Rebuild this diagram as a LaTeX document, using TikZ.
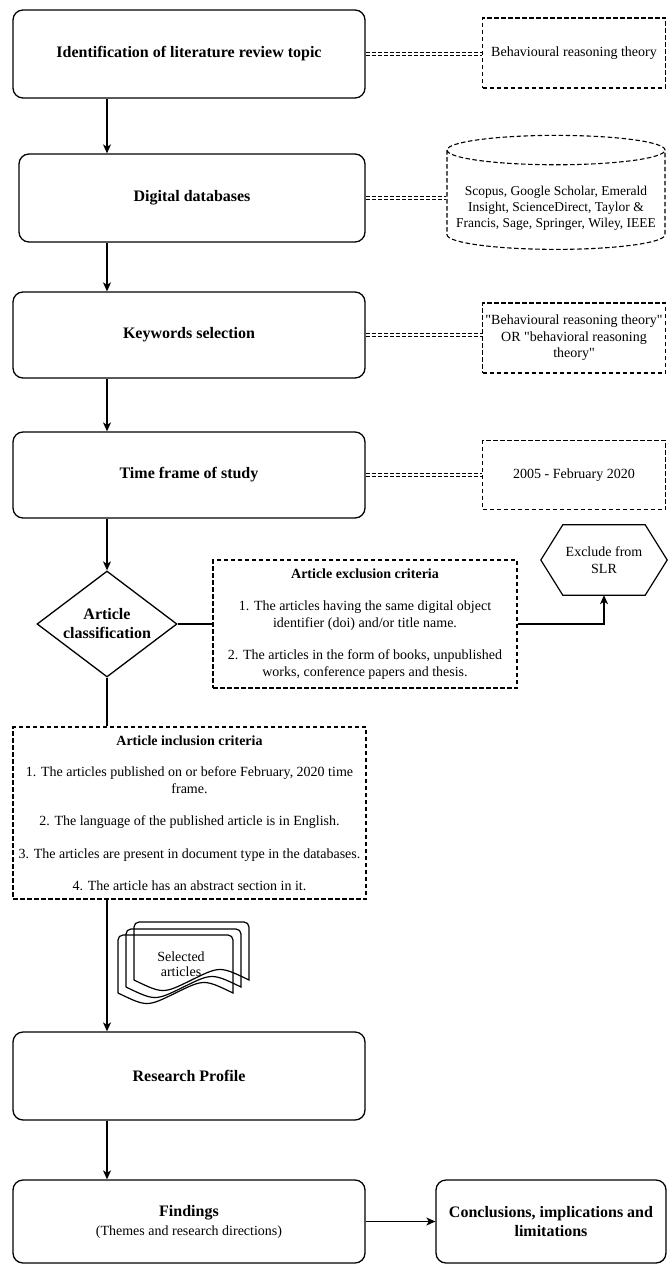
\documentclass[tikz,border=0pt]{standalone}
\usepackage{fontspec}
\setmainfont{Liberation Serif}
\usetikzlibrary{calc,shapes.geometric,arrows.meta}

\tikzset{
  stage/.style={draw, line width=1.3pt, rounded corners=10pt, align=center, inner sep=0pt,
    font=\bfseries\fontsize{16}{19}\selectfont},
  note/.style={draw, line width=1.1pt, dash pattern=on 4.5pt off 2.5pt, align=center, inner sep=0pt,
    font=\fontsize{14}{16.5}\selectfont},
  link/.style={double, double distance=1.8pt, line width=0.9pt, dash pattern=on 4pt off 2pt},
  flow/.style={line width=1.2pt, -{Stealth[length=9pt,width=8pt,inset=2.5pt]}},
  wire/.style={line width=1.2pt},
}

\begin{document}
\begin{tikzpicture}[x=1pt,y=-1pt]
\useasboundingbox (0,0) rectangle (667,1265);
\coordinate (axis) at (107,0);
% main column
\node[stage, minimum width=352, minimum height=88] (topic) at (189,54) {Identification of literature review topic};
\node[stage, minimum width=346, minimum height=88] (media) at (192,198) {Digital databases};
\node[stage, minimum width=352, minimum height=86] (words) at (189,335) {Keywords selection};
\node[stage, minimum width=352, minimum height=86] (period) at (189,475) {Time frame of study};
\node[draw, diamond, line width=1.3pt, aspect=1.32, inner sep=0pt, minimum width=140, minimum height=106,
  align=center, font=\bfseries\fontsize{16}{19}\selectfont] (classify) at (107,624) {Article\\classification};
\node[stage, minimum width=352, minimum height=88] (profile) at (189,1076) {Research Profile};
\node[stage, minimum width=352, minimum height=83] (results) at (189,1221.5)
  {Findings\\{\normalfont\fontsize{14}{17}\selectfont (Themes and research directions)}};
\node[stage, minimum width=230, minimum height=83] (closing) at (551,1221.5) {Conclusions, implications and\\limitations};
% side notes
\node[note, minimum width=183, minimum height=70] (theory) at (574,53) {Behavioural reasoning theory};
\node[note, cylinder, shape border rotate=90, aspect=0.14, minimum width=218, minimum height=114] (dbs) at (556,200)
  {\rule{210pt}{0pt}};
\node[align=center, inner sep=0pt, font=\fontsize{13.5}{16}\selectfont] (dbstext) at (556,208)
  {Scopus, Google Scholar, Emerald\\Insight, ScienceDirect, Taylor \&\\Francis, Sage, Springer, Wiley, IEEE};
\node[note, minimum width=183, minimum height=70] (terms) at (574,338)
  {\textquotedbl Behavioural reasoning theory\textquotedbl\\OR \textquotedbl behavioral reasoning\\theory\textquotedbl};
\node[note, minimum width=183, minimum height=69] (span) at (574,475) {2005 - February 2020};
% criteria
\node[note, minimum width=304, minimum height=128] (excl) at (365,624)
  {\textbf{Article exclusion criteria}\\[16pt]
   1. The articles having the same digital object\\identifier (doi) and/or title name.\\[16pt]
   2. The articles in the form of books, unpublished\\works, conference papers and thesis.};
\node[note, minimum width=353, minimum height=172] (incl) at (189.5,813)
  {\textbf{Article inclusion criteria}\\[15pt]
   1. The articles published on or before February, 2020 time\\frame.\\[16pt]
   2. The language of the published article is in English.\\[16pt]
   3. The articles are present in document type in the databases.\\[16pt]
   4. The article has an abstract section in it.};
\node[minimum width=126, minimum height=70, align=center, inner sep=0pt,
  font=\fontsize{14}{16.5}\selectfont] (slr) at (604,560) {Exclude from\\SLR};
\draw[wire] (slr.west) -- ([xshift=22pt]slr.north west) -- ([xshift=-22pt]slr.north east) -- (slr.east)
  -- ([xshift=-22pt]slr.south east) -- ([xshift=22pt]slr.south west) -- cycle;
% selected articles
\begin{scope}[shift={(134,922)}]
\draw[wire] (0,58) [rounded corners=5pt] -- (0,0) -- (115,0) [sharp corners] -- (115,58)
  .. controls (86,44) .. (57.5,58) .. controls (29,72) .. (0,58);
\end{scope}
\begin{scope}[shift={(126,929)}]
\draw[wire] (0,58) [rounded corners=5pt] -- (0,0) -- (115,0) [sharp corners] -- (115,58)
  .. controls (86,44) .. (57.5,58) .. controls (29,72) .. (0,58);
\end{scope}
\begin{scope}[shift={(118,935)}]
\draw[wire] (0,58) [rounded corners=5pt] -- (0,0) -- (115,0) [sharp corners] -- (115,58)
  .. controls (86,44) .. (57.5,58) .. controls (29,72) .. (0,58);
\end{scope}
\node[align=center, inner sep=0pt, font=\fontsize{14}{15.5}\selectfont] (sel) at (181,964) {Selected\\articles};
% connectors
\draw[flow] (topic.south -| axis) -- (media.north -| axis);
\draw[flow] (media.south -| axis) -- (words.north -| axis);
\draw[flow] (words.south -| axis) -- (period.north -| axis);
\draw[flow] (period.south -| axis) -- (classify.north);
\draw[wire] (classify.east) -- (excl.west);
\draw[flow] (excl.east) -| (slr.south);
\draw[wire] (classify.south) -- (incl.north -| axis);
\draw[flow] (incl.south -| axis) -- (profile.north -| axis);
\draw[flow] (profile.south -| axis) -- (results.north -| axis);
\draw[flow] (results.east) -- (results.east -| closing.west);
\draw[link] (topic.east) -- (topic.east -| theory.west);
\draw[link] (media.east) -- (media.east -| dbs.west);
\draw[link] (words.east) -- (words.east -| terms.west);
\draw[link] (period.east) -- (period.east -| span.west);
\end{tikzpicture}
\end{document}
